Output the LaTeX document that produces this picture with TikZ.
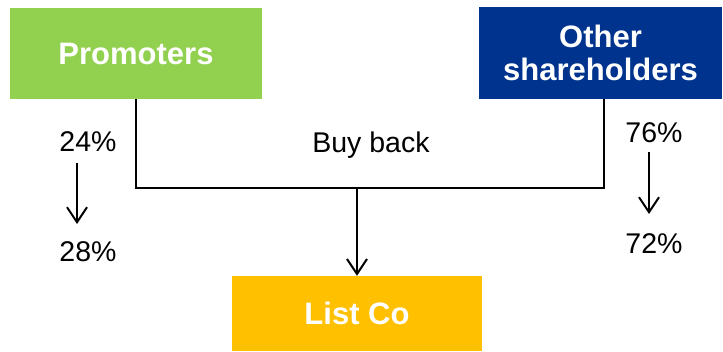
\documentclass[tikz,border=0pt]{standalone}
\usepackage{fontspec}
\setmainfont{Liberation Sans}
\usetikzlibrary{arrows.meta}
\definecolor{promgreen}{HTML}{92D050}
\definecolor{othblue}{HTML}{00338D}
\definecolor{listyellow}{HTML}{FFC000}
\tikzset{
  box/.style={draw=none, minimum width=#1, inner sep=0pt, align=center,
    text=white, font=\fontsize{31}{33}\selectfont\bfseries},
  lbl/.style={font=\fontsize{28.5}{30}\selectfont, inner sep=0pt},
  conn/.style={line width=2pt, line join=miter},
  arr/.style={line width=2pt, -{Straight Barb[length=15pt,width=20pt,line width=2pt]}},
}
\begin{document}
\begin{tikzpicture}[x=1pt,y=1pt]
\useasboundingbox (0,0) rectangle (723,351);
\node[box=252pt, minimum height=91pt, fill=promgreen] (prom) at (136,297.5) {Promoters};
\node[box=243pt, minimum height=92pt, fill=othblue] (other) at (600.5,298) {Other\\shareholders};
\node[box=250pt, minimum height=75pt, fill=listyellow] (listco) at (357,37.5) {List Co};
\coordinate (bus) at (357,163);
\coordinate (oth) at (604,252);
\draw[conn] (prom.south) -- (prom.south |- bus) -- (oth |- bus) -- (oth);
\draw[arr] (listco.north |- bus) -- (listco.north);
\node[lbl] (buy) at (371,206) {Buy back};
\node[lbl] (p24) at (88,209) {24\%};
\node[lbl] (p28) at (88,99) {28\%};
\node[lbl] (p76) at (654,218) {76\%};
\node[lbl] (p72) at (654,107) {72\%};
\coordinate (a1) at (77,188);
\coordinate (a2) at (77,127);
\coordinate (b1) at (649,199);
\coordinate (b2) at (649,137);
\draw[arr] (a1) -- (a2);
\draw[arr] (b1) -- (b2);
\end{tikzpicture}
\end{document}
